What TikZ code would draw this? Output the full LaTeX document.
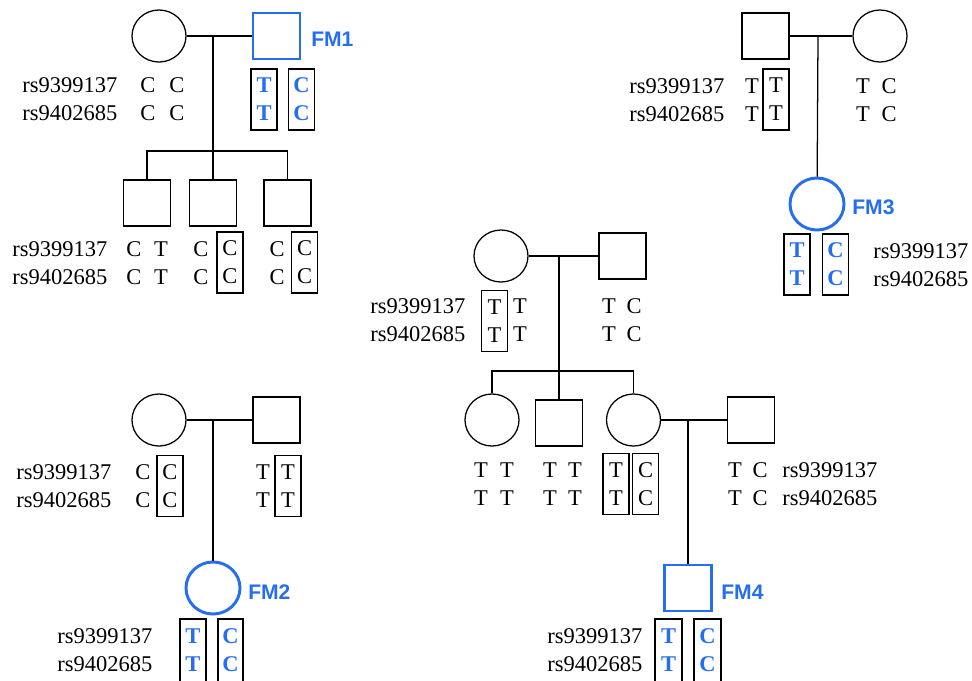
\documentclass[tikz,border=0pt]{standalone}
\usepackage{fontspec}
\setmainfont{Liberation Serif}
\setsansfont{Liberation Sans}
\usetikzlibrary{shapes.geometric}

\definecolor{fmblue}{RGB}{38,110,240}

\tikzset{
    female/.style={ellipse, draw, line width=0.9pt, minimum width=1.35cm, minimum height=1.3cm, inner sep=0pt},
    male/.style={rectangle, draw, line width=0.9pt, minimum width=1.175cm, minimum height=1.15cm, inner sep=0pt},
    carrier/.style={draw=fmblue, line width=2.1pt},
    link/.style={line width=0.9pt},
    geno/.style={align=center, inner sep=0pt, font=\fontsize{16}{19.9}\selectfont},
    fmgeno/.style={geno, text=fmblue, font=\fontsize{16}{19.9}\selectfont\bfseries},
    boxed/.style={draw, line width=1pt, minimum width=0.65cm, minimum height=1.525cm},
    snp/.style={align=left, anchor=west, inner sep=0pt, font=\fontsize{16}{19.9}\selectfont},
    fmlabel/.style={anchor=west, inner sep=0pt, text=fmblue, font=\sffamily\bfseries\fontsize{15}{18}\selectfont},
    allelebox/.style={draw, line width=1pt}
}

\begin{document}
\begin{tikzpicture}[x=0.025cm, y=-0.025cm]
    % pixel coordinates, origin top-left
    \useasboundingbox (0,0) rectangle (972,680);

    % --- Family of FM1 (top left) ---
    \node[female] (aMother) at (159,36) {};
    \node[male, carrier] (fmOne) at (276.5,36) {};
    \node[fmlabel] (fmOneLbl) at (311,39) {FM1};
    \coordinate (aJoin) at (213,36);
    \coordinate (aSib) at (213,151);
    \node[male] (aKid1) at (147,203) {};
    \node[male] (aKid2) at (213,203) {};
    \node[male] (aKid3) at (287.5,203) {};

    \draw[link] (aMother) -- (fmOne);
    \draw[link] (aJoin) -- (aSib) -- (aKid2);
    \draw[link] (aKid1) |- (aSib) -| (aKid3);

    % parents
    \node[snp] (aSnp) at (22,99) {rs9399137\\rs9402685};
    \node[geno] (aMotherA) at (148,99) {C\\C};
    \node[geno] (aMotherB) at (177,99) {C\\C};
    \node[fmgeno, boxed] (fmOneA) at (264,99.5) {T\\T};
    \node[fmgeno, boxed] (fmOneB) at (301.5,99.5) {C\\C};

    % children
    \node[snp] (aKidSnp) at (12,263) {rs9399137\\rs9402685};
    \node[geno] (aKid1A) at (134,263) {C\\C};
    \node[geno] (aKid1B) at (161,263) {T\\T};
    \node[geno] (aKid2A) at (201,263) {C\\C};
    \node[geno, boxed] (aKid2B) at (230,262.5) {C\\C};
    \node[geno] (aKid3A) at (277,263) {C\\C};
    \node[geno, boxed] (aKid3B) at (304.5,262.5) {C\\C};

    % --- Family of FM3 (top right) ---
    \node[male] (cFather) at (765.5,36) {};
    \node[female] (cMother) at (880,36) {};
    \coordinate (cJoin) at (818,36);
    \node[female, carrier] (fmThree) at (817,204) {};
    \node[fmlabel] (fmThreeLbl) at (852,207) {FM3};

    \draw[link] (cFather) -- (cMother);
    \draw[link] (cJoin) -- (fmThree);

    \node[snp] (cSnp) at (629,100) {rs9399137\\rs9402685};
    \node[geno] (cFatherA) at (752,100) {T\\T};
    \node[geno, boxed] (cFatherB) at (776,99.5) {T\\T};
    \node[geno] (cMotherA) at (863,100) {T\\T};
    \node[geno] (cMotherB) at (889,100) {C\\C};

    \node[fmgeno, boxed] (fmThreeA) at (797,264.5) {T\\T};
    \node[fmgeno, boxed] (fmThreeB) at (835.5,264.5) {C\\C};
    \node[snp] (fmThreeSnp) at (873,265) {rs9399137\\rs9402685};

    % --- Family of FM4 (centre) ---
    \node[female] (dMother) at (501,256) {};
    \node[male] (dFather) at (622.5,256) {};
    \coordinate (dJoin) at (559,256);
    \coordinate (dSib) at (559,371);
    \node[female] (dKid1) at (492,420) {};
    \node[male] (dKid2) at (559,423) {};
    \node[female] (dKid3) at (633.5,420) {};
    \node[male] (dSpouse) at (751,420) {};
    \coordinate (eJoin) at (688,420);
    \node[male, carrier] (fmFour) at (688,588) {};
    \node[fmlabel] (fmFourLbl) at (721,592) {FM4};

    \draw[link] (dMother) -- (dFather);
    \draw[link] (dJoin) -- (dSib) -- (dKid2);
    \draw[link] (dKid1) |- (dSib) -| (dKid3);
    \draw[link] (dKid3) -- (dSpouse);
    \draw[link] (eJoin) -- (fmFour);

    % parents
    \node[snp] (dSnp) at (370,320.5) {rs9399137\\rs9402685};
    \node[geno, boxed] (dMotherA) at (494.5,321) {T\\T};
    \node[geno] (dMotherB) at (520,320.5) {T\\T};
    \node[geno] (dFatherA) at (609,320.5) {T\\T};
    \node[geno] (dFatherB) at (634,320.5) {C\\C};

    % children and spouse
    \node[geno] (dKid1A) at (481,484) {T\\T};
    \node[geno] (dKid1B) at (507,484) {T\\T};
    \node[geno] (dKid2A) at (550,484) {T\\T};
    \node[geno] (dKid2B) at (575,484) {T\\T};
    \node[geno, boxed] (dKid3A) at (616,484) {T\\T};
    \node[geno, boxed] (dKid3B) at (645.5,484) {C\\C};
    \node[geno] (dSpouseA) at (735,484) {T\\T};
    \node[geno] (dSpouseB) at (760,484) {C\\C};
    \node[snp] (dSpouseSnp) at (782,484) {rs9399137\\rs9402685};

    % FM4 (boxes run off the bottom)
    \node[snp] (fmFourSnp) at (547,650) {rs9399137\\rs9402685};
    \node[fmgeno] (fmFourA) at (668.5,650) {T\\T};
    \node[fmgeno] (fmFourB) at (707.5,650) {C\\C};
    \draw[allelebox] (655,619) rectangle (682,690);
    \draw[allelebox] (694,619) rectangle (721,690);

    % --- Family of FM2 (bottom left) ---
    \node[female] (bMother) at (159,420) {};
    \node[male] (bFather) at (276.5,420) {};
    \coordinate (bJoin) at (213,420);
    \node[female, carrier] (fmTwo) at (213,588) {};
    \node[fmlabel] (fmTwoLbl) at (248,592) {FM2};

    \draw[link] (bMother) -- (bFather);
    \draw[link] (bJoin) -- (fmTwo);

    \node[snp] (bSnp) at (16,486) {rs9399137\\rs9402685};
    \node[geno] (bMotherA) at (143,486) {C\\C};
    \node[geno, boxed] (bMotherB) at (170,486) {C\\C};
    \node[geno] (bFatherA) at (263,486) {T\\T};
    \node[geno, boxed] (bFatherB) at (288,486) {T\\T};

    \node[snp] (fmTwoSnp) at (57,650) {rs9399137\\rs9402685};
    \node[fmgeno] (fmTwoA) at (193,650) {T\\T};
    \node[fmgeno] (fmTwoB) at (230.5,650) {C\\C};
    \draw[allelebox] (180,619) rectangle (206,690);
    \draw[allelebox] (218,619) rectangle (243,690);

\end{tikzpicture}
\end{document}
